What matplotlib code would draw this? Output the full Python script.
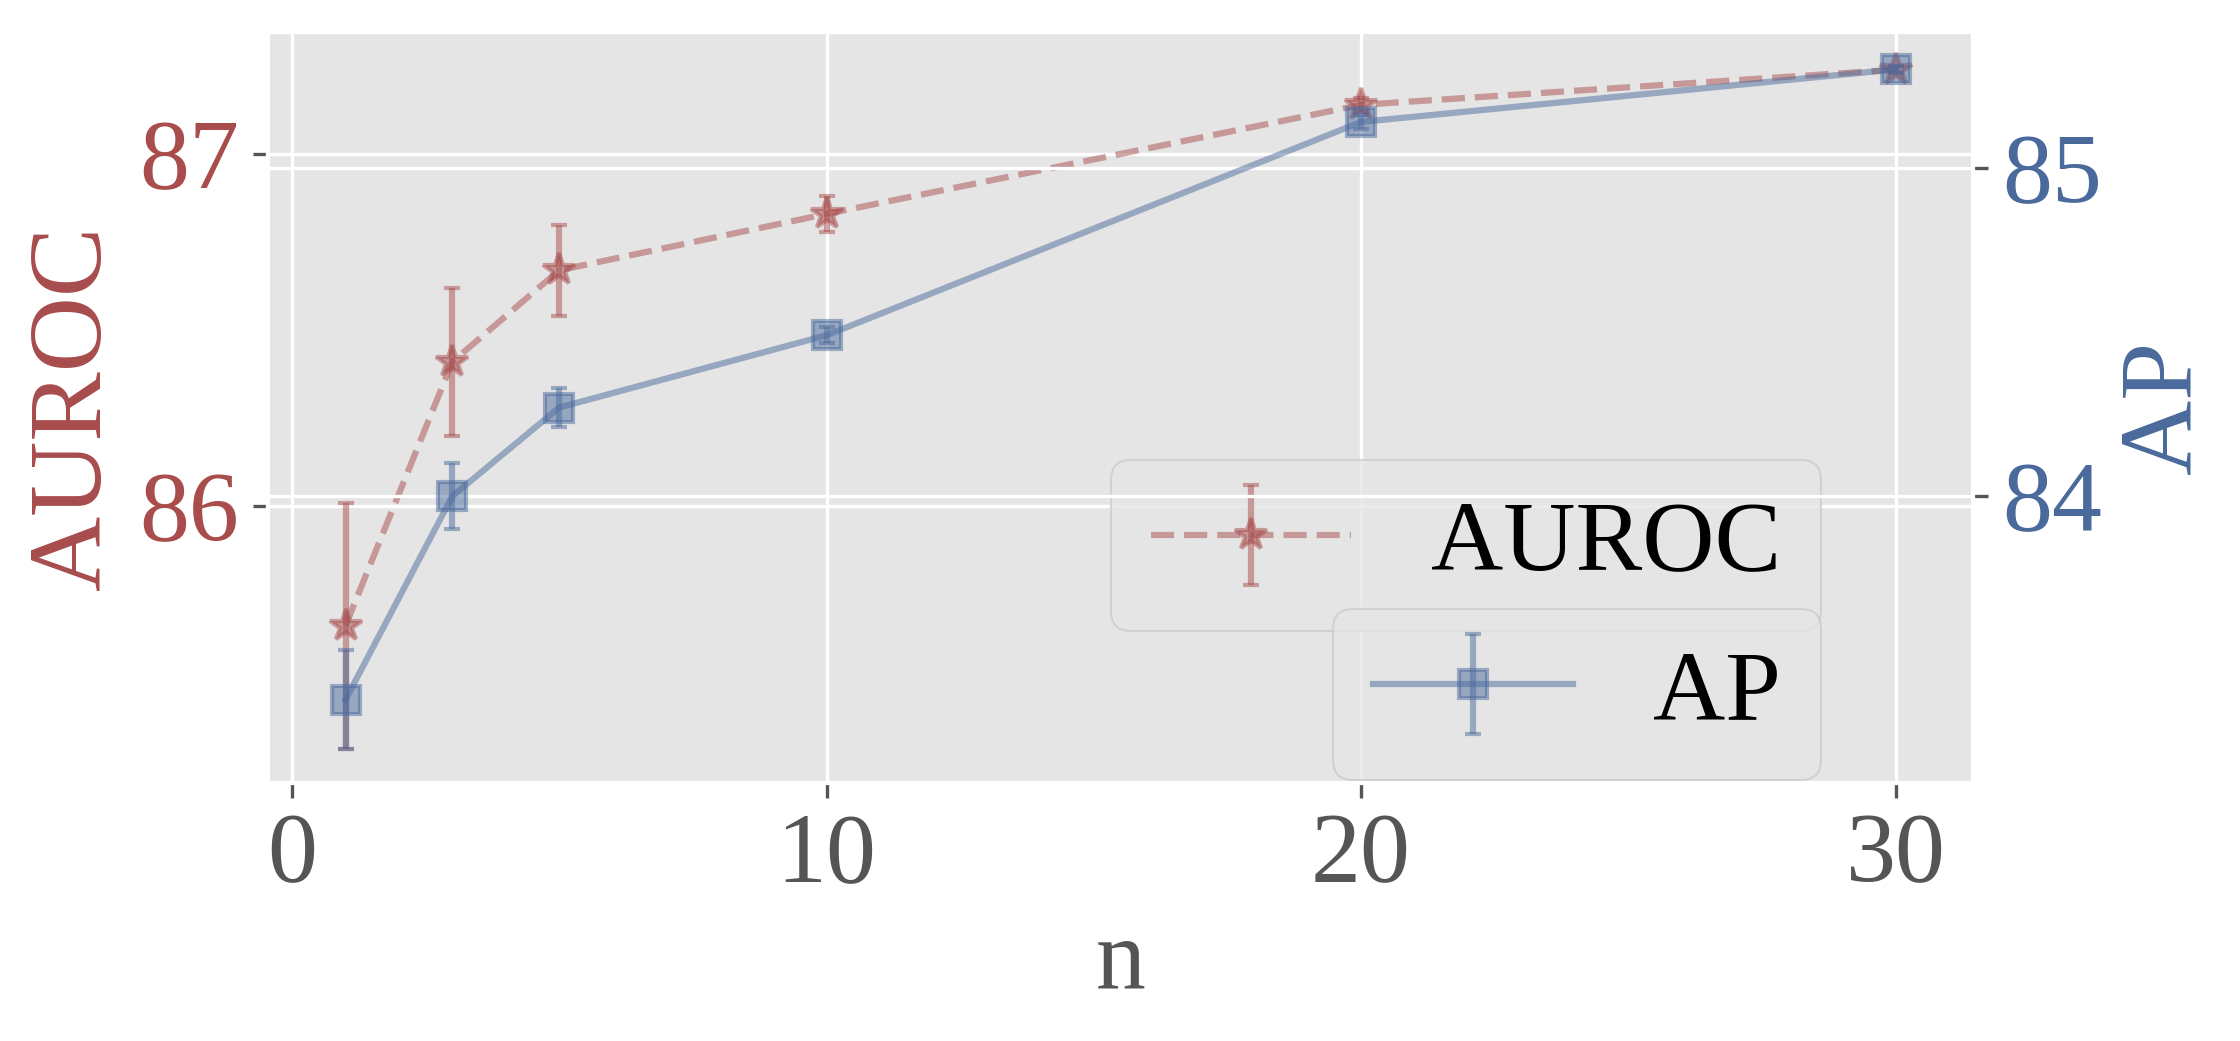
import matplotlib
matplotlib.use('Agg')
import matplotlib.pyplot as plt

# values
n = [1, 3, 5, 10, 20, 30]
auroc = [85.66, 86.41, 86.67, 86.83, 87.14, 87.24]
auroc_err = [0.35, 0.21, 0.13, 0.05, 0.02, 0.01]
ap = [83.38, 84.00, 84.27, 84.49, 85.14, 85.30]
ap_err = [0.15, 0.10, 0.06, 0.025, 0.02, 0.01]

red = '#A84C4C'
blue = '#4A6A9C'

plt.style.use('ggplot')
plt.rcParams['font.family'] = ['Liberation Serif', 'DejaVu Serif']
fs = 24

fig = plt.figure(figsize=(2240 / 300, 1041 / 300), dpi=300)
ax = fig.add_axes([268 / 2240, 1 - 783 / 1041, (1973 - 268) / 2240, (783 - 32) / 1041])

ax.errorbar(n, auroc, yerr=auroc_err, color=red, linestyle='--', marker='*',
            markersize=8, capsize=2, alpha=0.5, label='AUROC')
ax.set_xlabel('n', fontsize=fs)
ax.set_ylabel('AUROC', color=red, fontsize=fs + 1)
ax.tick_params(axis='y', labelcolor=red, labelsize=fs)
ax.tick_params(axis='x', labelsize=fs)

ax2 = ax.twinx()
ax2.errorbar(n, ap, yerr=ap_err, color=blue, linestyle='-', marker='s',
             markersize=6.5, capsize=2, alpha=0.5, label='AP')
ax2.set_ylabel('AP', color=blue, fontsize=fs + 1)
ax2.tick_params(axis='y', labelcolor=blue, labelsize=fs)

ax.legend(loc='lower right', bbox_to_anchor=(0.911, 0.203), borderaxespad=0, fontsize=fs)
ax2.legend(loc='lower right', bbox_to_anchor=(0.911, 0.004), borderaxespad=0, fontsize=fs)

fig.savefig('out.png', dpi=300)
